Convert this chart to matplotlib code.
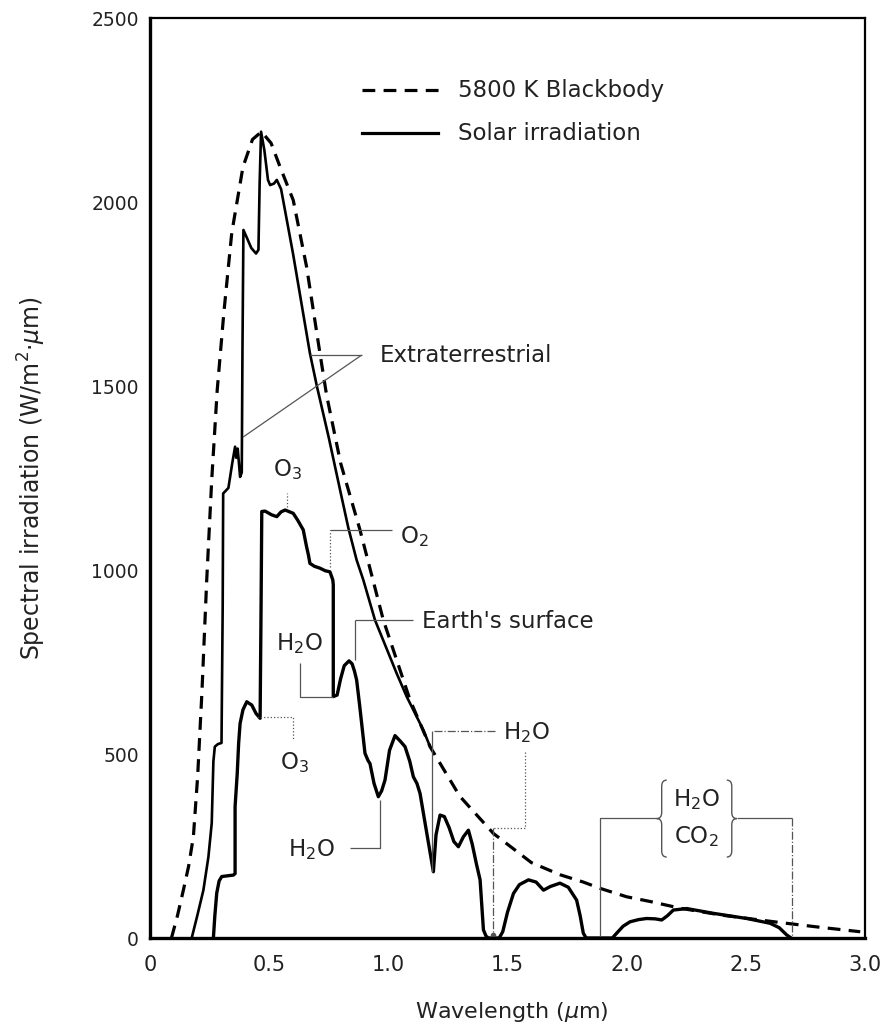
"""
Solar spectral irradiation vs. 5800 K blackbody,
extraterrestrial and at the earth's surface.
"""

import matplotlib.pyplot as plt
from matplotlib.path import Path
from matplotlib.patches import PathPatch

# blackbody (dashed)
bb_x = [0.09, 0.115, 0.14, 0.162, 0.182, 0.2, 0.218, 0.238, 0.259, 0.282, 0.31, 0.343,
        0.39, 0.43, 0.468, 0.508, 0.546, 0.601, 0.657, 0.713, 0.741, 0.8, 0.881, 0.979,
        1.091, 1.175, 1.3, 1.441, 1.6, 1.72, 1.818, 1.888, 2.0, 2.1, 2.224, 2.4, 2.644,
        2.8, 2.98]
bb_y = [0, 60, 130, 195, 275, 440, 670, 973, 1245, 1489, 1700, 1916,
        2095, 2170, 2191, 2160, 2095, 2005, 1824, 1589, 1475, 1290, 1109, 864,
        647, 520, 385, 284, 205, 172, 152, 135, 112, 99, 81, 62, 42,
        30, 17]

# extraterrestrial solar irradiation (solid)
ext_x = [0.175, 0.2, 0.224, 0.245, 0.259, 0.266, 0.272, 0.285, 0.300, 0.305, 0.307,
         0.329, 0.345, 0.357, 0.362, 0.368, 0.378, 0.385, 0.388, 0.392, 0.405, 0.425,
         0.445, 0.455, 0.46, 0.466, 0.48, 0.495, 0.504, 0.52, 0.532, 0.55, 0.6, 0.671,
         0.7, 0.75, 0.8, 0.832, 0.867, 0.895, 0.944, 1.035, 1.077, 1.147, 1.175]
ext_y = [0, 65, 130, 220, 312, 480, 520, 527, 530, 900, 1208,
         1223, 1290, 1335, 1305, 1330, 1253, 1265, 1600, 1924, 1905, 1875,
         1860, 1870, 2050, 2191, 2140, 2060, 2046, 2050, 2060, 2035, 1860, 1589,
         1500, 1360, 1210, 1115, 1027, 973, 864, 719, 656, 565, 520]

# irradiation at the earth's surface (solid)
surf_x = [0.266, 0.272, 0.28, 0.29, 0.301, 0.35, 0.357, 0.357, 0.366, 0.372, 0.378,
          0.39, 0.406, 0.415, 0.427, 0.445, 0.462, 0.466, 0.469, 0.483, 0.51, 0.532,
          0.55, 0.567, 0.601, 0.62, 0.643, 0.657, 0.665, 0.671, 0.69, 0.713, 0.735,
          0.755, 0.767, 0.769, 0.769, 0.785, 0.80, 0.815, 0.835, 0.848, 0.858, 0.867,
          0.88, 0.902, 0.915, 0.923, 0.94, 0.958, 0.972, 0.986, 1.005, 1.028, 1.05,
          1.07, 1.09, 1.105, 1.12, 1.133, 1.16, 1.189, 1.2, 1.217, 1.235, 1.255,
          1.275, 1.294, 1.315, 1.336, 1.352, 1.37, 1.385, 1.399, 1.41, 1.42, 1.465,
          1.48, 1.50, 1.525, 1.55, 1.588, 1.62, 1.651, 1.68, 1.72, 1.755, 1.79, 1.805,
          1.818, 1.83, 1.94, 1.958, 1.985, 2.014, 2.05, 2.084, 2.12, 2.147, 2.17,
          2.196, 2.252, 2.364, 2.504, 2.602, 2.64, 2.672, 2.69]
surf_y = [0, 60, 122, 155, 167, 171, 175, 357, 447, 530, 583,
          620, 642, 638, 633, 610, 597, 900, 1159, 1160, 1150, 1145,
          1158, 1163, 1154, 1135, 1109, 1063, 1040, 1018, 1010, 1005, 998,
          995, 973, 960, 656, 660, 705, 740, 753, 745, 725, 701,
          630, 502, 482, 474, 420, 384, 400, 429, 510, 550, 535,
          520, 480, 438, 420, 393, 290, 180, 280, 334, 330, 300,
          262, 248, 275, 293, 255, 200, 158, 22, 5, 0, 0,
          17, 70, 121, 145, 158, 152, 130, 140, 149, 138, 103, 60,
          13, 0, 0, 13, 32, 44, 50, 53, 52, 49, 60,
          76, 80, 67, 53, 40, 28, 8, 0]

x_ticks = [0, 0.5, 1.0, 1.5, 2.0, 2.5, 3.0]
x_tick_labels = ['0', '0.5', '1.0', '1.5', '2.0', '2.5', '3.0']
y_ticks = [0, 500, 1000, 1500, 2000, 2500]

INK = 'black'
LEAD = '#555555'
TXT = '#222222'
FS = 16.5


def brace(ax, x_tip, x_end, y0, y1):
    # curly brace with its point at x_tip and its two ends at x_end
    xm = (x_tip + x_end) / 2
    ym = (y0 + y1) / 2
    d = (y1 - y0) * 0.08
    verts = [(x_end, y1), (xm, y1), (xm, y1 - d), (xm, ym + d),
             (xm, ym), (x_tip, ym), (xm, ym), (xm, ym - d),
             (xm, y0 + d), (xm, y0), (x_end, y0)]
    codes = [Path.MOVETO, Path.CURVE3, Path.CURVE3, Path.LINETO,
             Path.CURVE3, Path.CURVE3, Path.CURVE3, Path.CURVE3,
             Path.LINETO, Path.CURVE3, Path.CURVE3]
    ax.add_patch(PathPatch(Path(verts, codes), fill=False, lw=1.0, ec=LEAD))


def lead(ax, xs, ys, ls='-'):
    ax.plot(xs, ys, color=LEAD, lw=0.9, ls=ls, solid_capstyle='butt')


fig = plt.figure(figsize=(8.92, 10.34), dpi=100)
ax = fig.add_axes([150 / 892, 1 - 938 / 1034, 715 / 892, 920 / 1034])

# curves
ax.plot(bb_x, bb_y, color=INK, lw=2.3, dashes=(4, 2.6))
ax.plot(ext_x, ext_y, color=INK, lw=1.9)
ax.plot(surf_x, surf_y, color=INK, lw=2.4)

# legend drawn by hand
ax.plot([0.2965, 0.4056], [0.9217, 0.9217], transform=ax.transAxes, color=INK,
        lw=2.3, dashes=(4, 2.6))
ax.plot([0.2965, 0.4028], [0.875, 0.875], transform=ax.transAxes, color=INK, lw=2.3)
ax.text(0.4308, 0.9217, '5800 K Blackbody', transform=ax.transAxes, fontsize=FS,
        color=TXT, va='center')
ax.text(0.4308, 0.875, 'Solar irradiation', transform=ax.transAxes, fontsize=FS,
        color=TXT, va='center')

# Extraterrestrial
lead(ax, [0.671, 0.888], [1584, 1584])
lead(ax, [0.888, 0.39], [1584, 1361])
ax.text(0.965, 1584, 'Extraterrestrial', fontsize=FS, color=TXT, va='center')

# O3 (upper)
lead(ax, [0.574, 0.574], [1170, 1209], ':')
ax.text(0.579, 1272, 'O$_3$', fontsize=FS, color=TXT, ha='center', va='center')

# O2
lead(ax, [0.755, 0.755], [1008, 1109], ':')
lead(ax, [0.755, 1.014], [1109, 1109])
ax.text(1.05, 1090, 'O$_2$', fontsize=FS, color=TXT, va='center')

# Earth's surface
lead(ax, [0.86, 0.86], [755, 864])
lead(ax, [0.86, 1.105], [864, 864])
ax.text(1.14, 860, "Earth's surface", fontsize=FS, color=TXT, va='center')

# H2O (upper left)
lead(ax, [0.63, 0.63, 0.769], [746, 656, 656])
ax.text(0.625, 800, 'H$_2$O', fontsize=FS, color=TXT, ha='center', va='center')

# O3 (lower)
lead(ax, [0.448, 0.602, 0.602], [601, 601, 538], ':')
ax.text(0.608, 478, 'O$_3$', fontsize=FS, color=TXT, ha='center', va='center')

# H2O (lower)
lead(ax, [0.839, 0.965, 0.965], [244, 244, 375])
ax.text(0.676, 240, 'H$_2$O', fontsize=FS, color=TXT, ha='center', va='center')

# H2O (right)
lead(ax, [1.448, 1.182], [562, 562], '-.')
lead(ax, [1.182, 1.182], [562, 180])
lead(ax, [1.574, 1.574, 1.441], [506, 298, 298], ':')
lead(ax, [1.441, 1.441], [298, 0], '-.')
ax.plot([1.441], [8], 'o', color=LEAD, ms=3)
ax.text(1.481, 558, 'H$_2$O', fontsize=FS, color=TXT, va='center')

# H2O / CO2 band
lead(ax, [1.888, 1.888, 2.126], [0, 325, 325])
lead(ax, [2.462, 2.693], [325, 325])
lead(ax, [2.693, 2.693], [325, 0], '-.')
brace(ax, 2.126, 2.168, 220, 429)
brace(ax, 2.462, 2.42, 220, 429)
ax.text(2.291, 375, 'H$_2$O', fontsize=FS, color=TXT, ha='center', va='center')
ax.text(2.291, 275, 'CO$_2$', fontsize=FS, color=TXT, ha='center', va='center')

# axes
ax.set_xlim(0, 3.0)
ax.set_ylim(0, 2500)
ax.set_xticks(x_ticks)
ax.set_xticklabels(x_tick_labels)
ax.set_yticks(y_ticks)
ax.tick_params(axis='x', length=0, pad=12, labelsize=15, labelcolor=TXT)
ax.tick_params(axis='y', length=0, pad=8, labelsize=13.5, labelcolor=TXT)
for side in ['left', 'bottom']:
    ax.spines[side].set_linewidth(2.4)
for side in ['top', 'right']:
    ax.spines[side].set_linewidth(1.6)

ax.set_xlabel('Wavelength ($\\mu$m)', fontsize=16, color=TXT)
ax.xaxis.set_label_coords(0.506, -0.067)
ax.set_ylabel('Spectral irradiation (W/m$^2$\u00b7$\\mu$m)', fontsize=17, color=TXT)
ax.yaxis.set_label_coords(-0.143, 0.50)

fig.savefig('out.png', dpi=100)
